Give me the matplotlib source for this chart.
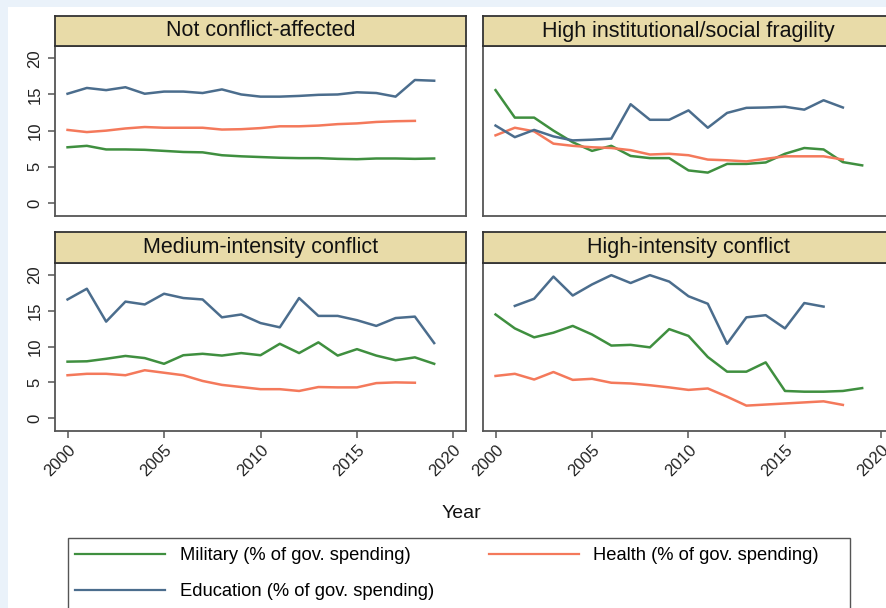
import matplotlib.pyplot as plt
import numpy as np
from matplotlib.lines import Line2D
from matplotlib.patches import Rectangle

plt.rcParams['font.family'] = ['Liberation Sans', 'DejaVu Sans']

nan = np.nan
years = list(range(2000, 2020))

# Not conflict-affected
nca_military = [7.7, 7.9, 7.4, 7.4, 7.35, 7.2, 7.05, 7.0, 6.6, 6.45,
                6.35, 6.25, 6.2, 6.2, 6.1, 6.05, 6.15, 6.15, 6.1, 6.15]
nca_health = [10.1, 9.8, 10.0, 10.3, 10.5, 10.4, 10.4, 10.4, 10.15, 10.2,
              10.35, 10.6, 10.6, 10.7, 10.9, 11.0, 11.2, 11.3, 11.35, nan]
nca_education = [15.1, 15.9, 15.6, 16.0, 15.1, 15.4, 15.4, 15.2, 15.7, 15.0,
                 14.7, 14.7, 14.8, 14.95, 15.0, 15.3, 15.2, 14.7, 17.0, 16.9]

# High institutional/social fragility
frag_military = [15.6, 11.8, 11.8, 10.0, 8.4, 7.2, 7.9, 6.5, 6.2, 6.2,
                 4.5, 4.2, 5.4, 5.4, 5.6, 6.8, 7.6, 7.4, 5.65, 5.2]
frag_health = [9.35, 10.4, 9.9, 8.2, 7.9, 7.7, 7.6, 7.3, 6.7, 6.8,
               6.6, 6.0, 5.9, 5.75, 6.1, 6.45, 6.45, 6.45, 6.0, nan]
frag_education = [10.7, 9.1, 10.1, 9.2, 8.65, 8.75, 8.9, 13.65, 11.5, 11.5,
                  12.8, 10.4, 12.45, 13.15, 13.2, 13.3, 12.9, 14.2, 13.2, nan]

# Medium-intensity conflict
med_military = [7.9, 7.95, 8.3, 8.7, 8.4, 7.6, 8.8, 9.0, 8.75, 9.1,
                8.8, 10.4, 9.1, 10.6, 8.75, 9.65, 8.75, 8.1, 8.5, 7.6]
med_health = [6.0, 6.2, 6.2, 6.0, 6.7, 6.35, 6.0, 5.2, 4.65, 4.35,
              4.05, 4.05, 3.8, 4.35, 4.3, 4.3, 4.9, 5.0, 4.95, nan]
med_education = [16.6, 18.1, 13.5, 16.3, 15.9, 17.4, 16.8, 16.6, 14.1, 14.5,
                 13.3, 12.7, 16.8, 14.3, 14.3, 13.7, 12.9, 14.0, 14.2, 10.5]

# High-intensity conflict
high_military = [14.5, 12.55, 11.3, 11.95, 12.9, 11.7, 10.15, 10.25, 9.9, 12.45,
                 11.5, 8.55, 6.5, 6.5, 7.8, 3.8, 3.7, 3.7, 3.8, 4.2]
high_health = [5.9, 6.2, 5.4, 6.45, 5.35, 5.5, 4.95, 4.85, 4.6, 4.3,
               3.95, 4.15, 3.0, 1.75, 1.9, 2.05, 2.2, 2.35, 1.85, nan]
high_education = [nan, 15.7, 16.7, 19.8, 17.15, 18.7, 20.0, 18.9, 20.0, 19.1,
                  17.05, 16.0, 10.4, 14.1, 14.4, 12.55, 16.1, 15.6, nan, nan]

titles = ["Not conflict-affected", "High institutional/social fragility",
          "Medium-intensity conflict", "High-intensity conflict"]
series_labels = ["Military (% of gov. spending)", "Health (% of gov. spending)",
                 "Education (% of gov. spending)"]
panels = [
    (nca_military, nca_health, nca_education),
    (frag_military, frag_health, frag_education),
    (med_military, med_health, med_education),
    (high_military, high_health, high_education),
]

colors = ["#3f8f3f", "#f4795b", "#4b6d8d"]
strip_color = "#e8dba8"
frame_color = "#555555"

W, H = 886, 608


def box(x0, y0, x1, y1):
    # pixel box (top-left origin) -> figure coords
    return [x0 / W, 1 - y1 / H, (x1 - x0) / W, (y1 - y0) / H]


fig = plt.figure(figsize=(W / 100, H / 100), dpi=100, facecolor="#eaf2fa")
fig.patches.append(Rectangle((8 / W, 0), 1, 1 - 7 / H, transform=fig.transFigure,
                             facecolor="white", edgecolor="none", zorder=-5))

cols = [(55, 466), (483, 894)]
rows = [(16, 46, 216), (232, 263, 431)]

for i, (title, data) in enumerate(zip(titles, panels)):
    r, c = divmod(i, 2)
    x0, x1 = cols[c]
    s0, p0, p1 = rows[r]

    ax = fig.add_axes(box(x0, p0, x1, p1))
    for vals, col in zip(data, colors):
        ax.plot(years, vals, color=col, lw=1.8)
    ax.set_xlim(1999.35, 2020.65)
    ax.set_ylim(-1.8, 21.7)
    ax.set_yticks([0, 5, 10, 15, 20])
    ax.set_xticks([2000, 2005, 2010, 2015, 2020])
    for sp in ax.spines.values():
        sp.set_color(frame_color)
        sp.set_linewidth(1.3)
    ax.tick_params(colors=frame_color, labelcolor="#222222", length=5, width=1.1,
                   labelsize=12)
    if c == 0:
        for lab in ax.get_yticklabels():
            lab.set_rotation(90)
            lab.set_va("center")
        ax.tick_params(axis="y", pad=4)
    else:
        ax.tick_params(axis="y", left=False, labelleft=False)
    if r == 1:
        for lab in ax.get_xticklabels():
            lab.set_rotation(45)
            lab.set_ha("right")
            lab.set_va("top")
            lab.set_rotation_mode("anchor")
        ax.tick_params(axis="x", pad=3)
    else:
        ax.tick_params(axis="x", bottom=False, labelbottom=False)

    st = fig.add_axes(box(x0, s0, x1, p0))
    st.set_facecolor(strip_color)
    st.set_xticks([])
    st.set_yticks([])
    for sp in st.spines.values():
        sp.set_color("#333333")
        sp.set_linewidth(1.3)
    st.text(0.5, 0.5, title, ha="center", va="center", fontsize=15.5,
            color="#111111", transform=st.transAxes)

fig.text(461 / W, 1 - 513 / H, "Year", ha="center", va="center", fontsize=14,
         color="#111111")

# legend frame
fig.patches.append(Rectangle((68 / W, -0.05), (850 - 68) / W, 0.05 + (1 - 538 / H),
                             transform=fig.transFigure, facecolor="white",
                             edgecolor="#555555", lw=1.0, zorder=1))
handles = [Line2D([], [], color=colors[0], lw=1.6),
           Line2D([], [], color=colors[2], lw=1.6),
           Line2D([], [], color=colors[1], lw=1.6)]
labels = [series_labels[0], series_labels[2], series_labels[1]]
fig.legend(handles, labels, ncol=2, loc="upper left",
           bbox_to_anchor=(75 / W, 1 - 547 / H), frameon=False,
           fontsize=13.2, handlelength=4.9, handletextpad=0.8,
           columnspacing=3.0, labelspacing=1.05, borderpad=0, borderaxespad=0)

plt.savefig("out.png", dpi=100, facecolor=fig.get_facecolor())
